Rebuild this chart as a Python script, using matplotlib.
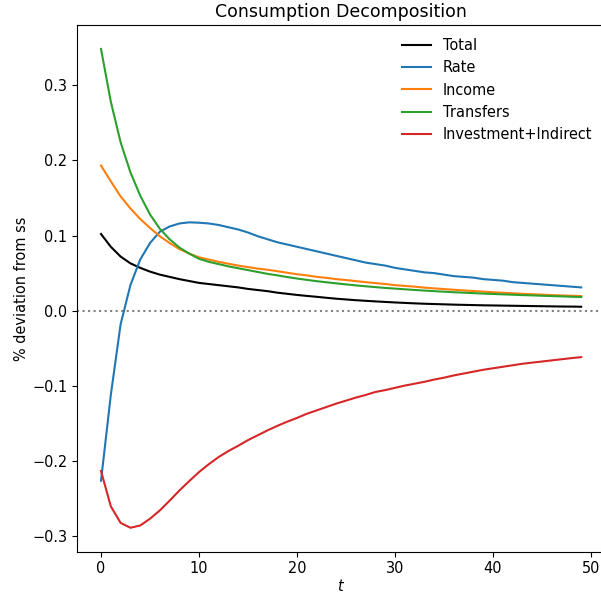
import matplotlib
matplotlib.use("Agg")
import matplotlib.pyplot as plt
import numpy as np

# periods
t = np.arange(50)

total = [0.102, 0.085, 0.072, 0.063, 0.057, 0.052, 0.048, 0.045, 0.042, 0.0395,
         0.037, 0.0355, 0.034, 0.0325, 0.031, 0.029, 0.0275, 0.026, 0.024, 0.0225,
         0.021, 0.0197, 0.0185, 0.0172, 0.016, 0.015, 0.014, 0.0132, 0.0124, 0.0117,
         0.011, 0.0104, 0.0098, 0.0093, 0.0089, 0.0085, 0.0081, 0.0078, 0.0075, 0.0072,
         0.007, 0.0068, 0.0066, 0.0064, 0.0062, 0.006, 0.0058, 0.0056, 0.0055, 0.0053]

rate = [-0.226, -0.112, -0.018, 0.034, 0.068, 0.090, 0.105, 0.112, 0.116, 0.1175,
        0.117, 0.116, 0.114, 0.111, 0.108, 0.104, 0.099, 0.095, 0.091, 0.088,
        0.085, 0.082, 0.079, 0.076, 0.073, 0.070, 0.067, 0.064, 0.062, 0.060,
        0.057, 0.055, 0.053, 0.051, 0.050, 0.048, 0.046, 0.045, 0.044, 0.042,
        0.041, 0.040, 0.038, 0.037, 0.036, 0.035, 0.034, 0.033, 0.032, 0.031]

income = [0.193, 0.172, 0.152, 0.136, 0.122, 0.110, 0.099, 0.090, 0.082, 0.076,
          0.071, 0.068, 0.065, 0.0625, 0.060, 0.058, 0.056, 0.0545, 0.0525, 0.0505,
          0.0485, 0.047, 0.045, 0.0437, 0.042, 0.0408, 0.0394, 0.038, 0.0367, 0.0355,
          0.034, 0.033, 0.032, 0.0307, 0.0297, 0.0288, 0.0279, 0.027, 0.0262, 0.0254,
          0.0246, 0.0239, 0.0232, 0.0225, 0.0219, 0.0214, 0.0208, 0.0203, 0.0199, 0.0195]

transfers = [0.348, 0.278, 0.224, 0.184, 0.153, 0.128, 0.109, 0.095, 0.084, 0.076,
             0.069, 0.065, 0.062, 0.059, 0.0565, 0.054, 0.0515, 0.049, 0.047, 0.0448,
             0.0428, 0.041, 0.0393, 0.0378, 0.0364, 0.035, 0.0337, 0.0325, 0.0314, 0.0303,
             0.0294, 0.0285, 0.0276, 0.0268, 0.026, 0.0253, 0.0246, 0.024, 0.0234, 0.0228,
             0.0223, 0.0218, 0.0213, 0.0208, 0.0204, 0.0199, 0.0195, 0.0191, 0.0186, 0.0182]

invest = [-0.213, -0.260, -0.282, -0.2885, -0.2855, -0.2765, -0.2655, -0.2525, -0.239, -0.2265,
          -0.2145, -0.204, -0.1945, -0.1865, -0.1795, -0.172, -0.1655, -0.159, -0.153, -0.1475,
          -0.1425, -0.137, -0.1325, -0.128, -0.1235, -0.1195, -0.1155, -0.112, -0.108, -0.1055,
          -0.1025, -0.0995, -0.097, -0.0945, -0.0915, -0.089, -0.086, -0.0835, -0.081, -0.0785,
          -0.0765, -0.0745, -0.0725, -0.0705, -0.069, -0.0675, -0.066, -0.0645, -0.063, -0.0617]

plt.rcParams["font.size"] = 10.45

fig = plt.figure(figsize=(6.01, 5.94), dpi=100)
# axes run slightly past the right edge, like the cropped original
ax = fig.add_axes([77 / 601, 42.3 / 594, 528.2 / 601, 526.7 / 594])

ax.plot(t, total, color="black", label="Total")
ax.plot(t, rate, color="C0", label="Rate")
ax.plot(t, income, color="C1", label="Income")
ax.plot(t, transfers, color="C2", label="Transfers")
ax.plot(t, invest, color="C3", label="Investment+Indirect")
ax.axhline(0, color="gray", linestyle=":")

ax.set_title("Consumption Decomposition", fontsize=12.5)
ax.set_xlabel("$t$", labelpad=1)
ax.set_ylabel("% deviation from ss", labelpad=2)
ax.legend(frameon=False, loc="upper right")

fig.savefig("out.png", dpi=100)
